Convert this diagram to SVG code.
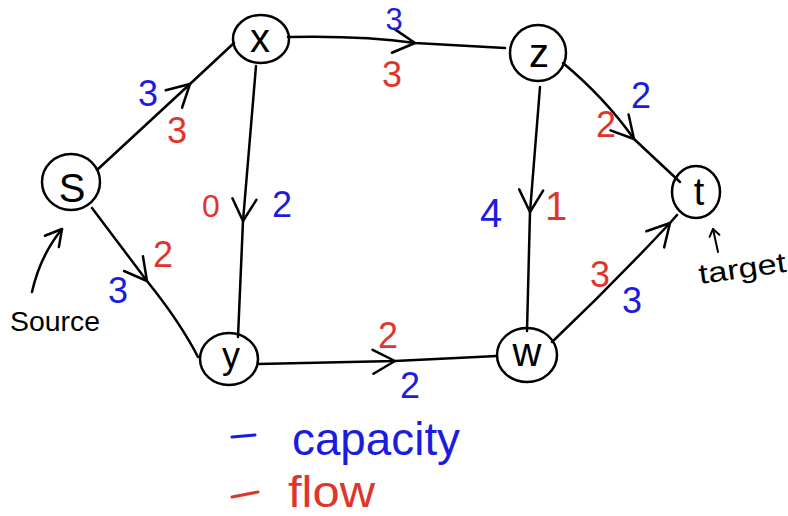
<svg xmlns="http://www.w3.org/2000/svg" width="788" height="516" viewBox="0 0 788 516">
<style>
.node{fill:none;stroke:#000;stroke-width:2.5}
.lbl{font-family:"Liberation Sans",Arial,sans-serif;fill:#000;text-anchor:middle}
.edge{fill:none;stroke:#000;stroke-width:2.5;stroke-linecap:round;stroke-linejoin:round;marker-mid:url(#ah)}
.cap{font-family:"Liberation Sans",Arial,sans-serif;fill:#1c1ce0;text-anchor:middle;font-size:36px}
.flw{font-family:"Liberation Sans",Arial,sans-serif;fill:#e0352b;text-anchor:middle;font-size:36px}
.note{font-family:"Liberation Sans",Arial,sans-serif;fill:#000}
</style>
<defs>
<marker id="ah" markerUnits="userSpaceOnUse" markerWidth="40" markerHeight="40" viewBox="-30 -20 40 40" refX="0" refY="0" orient="auto">
<path d="M-22,-12 L0,0 L-22,12" fill="none" stroke="#000" stroke-width="2.5" stroke-linecap="round" stroke-linejoin="round"/>
</marker>
<marker id="ahs" markerUnits="userSpaceOnUse" markerWidth="40" markerHeight="40" viewBox="-30 -20 40 40" refX="0" refY="0" orient="auto">
<path d="M-16,-9 L0,0 L-16,9" fill="none" stroke="#000" stroke-width="2.5" stroke-linecap="round" stroke-linejoin="round"/>
</marker>
<marker id="aht" markerUnits="userSpaceOnUse" markerWidth="20" markerHeight="20" viewBox="-15 -10 20 20" refX="0" refY="0" orient="auto">
<path d="M-7,-5 L0,0 L-7,5" fill="none" stroke="#000" stroke-width="2" stroke-linecap="round" stroke-linejoin="round"/>
</marker>
</defs>
<rect width="788" height="516" fill="#fff"/>

<g id="connectors">
<path id="e-s-x" class="edge" d="M97,170 L190,84 L234,43"/>
<path id="e-s-y" class="edge" d="M92,208 L147,281 Q180,322 198,357"/>
<path id="e-x-y" class="edge" d="M256,66 L243,221 L238,337"/>
<path id="e-x-z" class="edge" d="M288,37 C330,36 380,38 415,43 L505,48"/>
<path id="e-y-w" class="edge" d="M258,364 L395,361 L497,356"/>
<path id="e-z-w" class="edge" d="M540,87 L530,212 L527,331"/>
<path id="e-z-t" class="edge" d="M563,63 Q605,98 634,139 L680,182"/>
<path id="e-w-t" class="edge" d="M552,342 Q612,285 670,223 L677,215"/>
</g>

<g id="edge-labels">
<text class="cap" x="148" y="106">3</text>
<text class="flw" x="177" y="143">3</text>
<text class="flw" x="211" y="217" style="font-size:32px">0</text>
<text class="cap" x="282" y="217">2</text>
<text class="cap" x="394" y="30" style="font-size:31px">3</text>
<text class="flw" x="392" y="87">3</text>
<text class="cap" x="641" y="108">2</text>
<text class="flw" x="606" y="137">2</text>
<text class="cap" x="491" y="227" style="font-size:40px">4</text>
<text class="flw" x="556" y="220" style="font-size:40px">1</text>
<text class="flw" x="163" y="267">2</text>
<text class="cap" x="118" y="303">3</text>
<text class="flw" x="388" y="348">2</text>
<text class="cap" x="410" y="398">2</text>
<text class="flw" x="600" y="287">3</text>
<text class="cap" x="632" y="313">3</text>
</g>

<g id="node-s"><ellipse class="node" cx="71" cy="182" rx="29" ry="28"/><text class="lbl" x="72" y="202" font-size="40">S</text></g>
<g id="node-x"><ellipse class="node" cx="261" cy="39" rx="28" ry="24"/><text class="lbl" x="260" y="52" font-size="40">x</text></g>
<g id="node-z"><ellipse class="node" cx="538" cy="53" rx="28" ry="28"/><text class="lbl" x="539" y="67" font-size="40">z</text></g>
<g id="node-t"><ellipse class="node" cx="696" cy="192" rx="24" ry="26"/><text class="lbl" x="699" y="205" font-size="38">t</text></g>
<g id="node-y"><ellipse class="node" cx="229" cy="359" rx="29" ry="26"/><text class="lbl" x="231" y="368" font-size="36">y</text></g>
<g id="node-w"><ellipse class="node" cx="527" cy="355" rx="30" ry="27"/><text class="lbl" x="527" y="366" font-size="40">w</text></g>

<g id="annotations">
<path d="M32,292 Q40,256 62,229" fill="none" stroke="#000" stroke-width="2.5" stroke-linecap="round" marker-end="url(#ahs)"/>
<text class="note" x="10" y="331" font-size="27" textLength="90" lengthAdjust="spacingAndGlyphs">Source</text>
<path d="M718,252 L713,229" fill="none" stroke="#000" stroke-width="2" stroke-linecap="round" marker-end="url(#aht)"/>
<text class="note" x="700" y="284" font-size="28" textLength="88" lengthAdjust="spacingAndGlyphs" transform="rotate(-8 700 284)">target</text>
</g>

<g id="legend">
<path d="M232,437 L255,435" stroke="#1c1ce0" stroke-width="3" stroke-linecap="round"/>
<text x="292" y="455" font-family="Liberation Sans, Arial, sans-serif" font-size="46" fill="#1c1ce0" textLength="168" lengthAdjust="spacingAndGlyphs">capacity</text>
<path d="M232,497 L258,492" stroke="#e0352b" stroke-width="3" stroke-linecap="round"/>
<text x="288" y="507" font-family="Liberation Sans, Arial, sans-serif" font-size="44" fill="#e0352b" textLength="87" lengthAdjust="spacingAndGlyphs">flow</text>
</g>
</svg>
